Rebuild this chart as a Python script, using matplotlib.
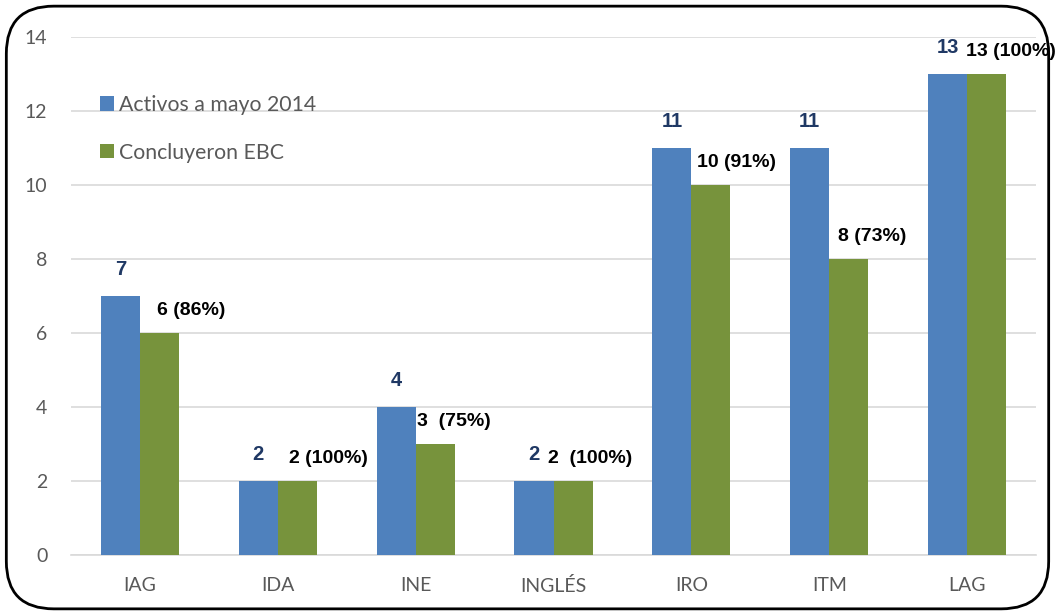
"""
Activos a mayo 2014 vs Concluyeron EBC, por programa
"""
import numpy as np
import matplotlib.pyplot as plt
from matplotlib.patches import FancyBboxPatch

categories = ['IAG', 'IDA', 'INE', 'INGLÉS', 'IRO', 'ITM', 'LAG']
activos = [7, 2, 4, 2, 11, 11, 13]
concluyeron = [6, 2, 3, 2, 10, 8, 13]
concl_labels = ['6 (86%)', '2 (100%)', '3  (75%)', '2  (100%)', '10 (91%)', '8 (73%)', '13 (100%)']

# horizontal nudges (points) of the green labels, as laid out in the original
green_dx = [-2, -6, -13, -18, -10, -8, -15]

BLUE = '#4F81BD'
GREEN = '#77933C'
NAVY = '#1F3864'
GRAY = '#595959'

plt.rcParams['font.family'] = ['Liberation Sans', 'DejaVu Sans']
TICKFONT = ['Lato', 'DejaVu Sans']

fig = plt.figure(figsize=(10.55, 6.15), dpi=100)
ax = fig.add_axes([0.0673, 0.0976, 0.9147, 0.8423])

x = np.arange(len(categories))
w = 0.283
ax.bar(x - w / 2, activos, w, color=BLUE, label='Activos a mayo 2014', zorder=3)
ax.bar(x + w / 2, concluyeron, w, color=GREEN, label='Concluyeron EBC', zorder=3)

for xi, v in zip(x, activos):
    ax.annotate(str(v), (xi - w / 2, v), xytext=(0, 12), textcoords='offset points',
                ha='center', va='bottom', fontsize=14.5, fontweight='bold', color=NAVY)
for xi, v, lab, dx in zip(x, concluyeron, concl_labels, green_dx):
    ax.annotate(lab, (xi + w / 2, v), xytext=(dx, 10), textcoords='offset points',
                ha='left', va='bottom', fontsize=14, fontweight='bold', color='black')

ax.set_xlim(-0.5, len(categories) - 0.5)
ax.set_ylim(0, 14)
ax.set_yticks(range(0, 15, 2))
ax.set_xticks(x)
ax.set_xticklabels(categories)
ax.tick_params(axis='both', length=0, labelsize=14, labelcolor=GRAY)
ax.tick_params(axis='x', pad=16)
ax.tick_params(axis='y', pad=17)
for t in ax.get_xticklabels() + ax.get_yticklabels():
    t.set_family(TICKFONT)
ax.grid(axis='y', color='#D9D9D9', linewidth=1.2, zorder=0)
for s in ['top', 'right', 'left']:
    ax.spines[s].set_visible(False)
ax.spines['bottom'].set_color('#D9D9D9')
ax.spines['bottom'].set_linewidth(1.2)

leg = ax.legend(loc='upper left', bbox_to_anchor=(0.03, 0.888), frameon=False,
                prop={'family': TICKFONT, 'size': 15.3},
                handlelength=0.65, handleheight=0.65, handletextpad=0.25,
                labelspacing=1.3, borderpad=0, borderaxespad=0)
for t in leg.get_texts():
    t.set_color(GRAY)

# rounded chart border
border = FancyBboxPatch((0.006, 0.01), 0.988, 0.98, boxstyle='round,pad=0,rounding_size=0.045',
                        transform=fig.transFigure, fill=False, edgecolor='black',
                        linewidth=2, mutation_aspect=1055 / 615)
fig.patches.append(border)

fig.savefig('out.png', dpi=100)
